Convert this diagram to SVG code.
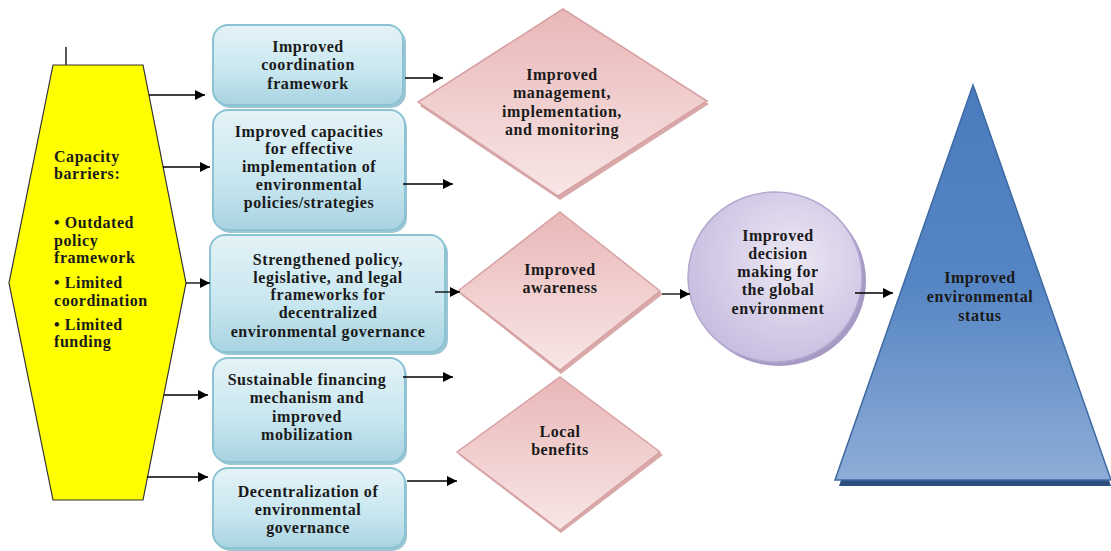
<svg xmlns="http://www.w3.org/2000/svg" width="1111" height="551" viewBox="0 0 1111 551">
<defs>
<linearGradient id="gBox" x1="0" y1="0" x2="0" y2="1">
<stop offset="0" stop-color="#e4f3f7"/>
<stop offset="0.6" stop-color="#c7e6ef"/>
<stop offset="1" stop-color="#a8d3e1"/>
</linearGradient>
<linearGradient id="gDia" x1="0" y1="0" x2="0" y2="1">
<stop offset="0" stop-color="#eab7b8"/>
<stop offset="1" stop-color="#f8e6e6"/>
</linearGradient>
<radialGradient id="gCir" cx="0.6" cy="0.4" r="0.7">
<stop offset="0" stop-color="#ece8f4"/>
<stop offset="1" stop-color="#c4b9de"/>
</radialGradient>
<linearGradient id="gTri" x1="0" y1="0" x2="0" y2="1">
<stop offset="0" stop-color="#4a7bbd"/>
<stop offset="0.5" stop-color="#5585c4"/>
<stop offset="1" stop-color="#8eadd6"/>
</linearGradient>
<marker id="ah" viewBox="0 0 10 10" refX="10" refY="5" markerWidth="10" markerHeight="10" markerUnits="userSpaceOnUse" orient="auto">
<path d="M0,0 L10,5 L0,10 z" fill="#000"/>
</marker>
</defs>
<style>
text{font-family:"Liberation Serif","Times New Roman",serif;font-weight:bold;font-size:16px;letter-spacing:0.55px;fill:#1a1a1a;}
.c{text-anchor:middle;}
.box{fill:url(#gBox);stroke:#8cc3d3;stroke-width:2;}
.boxsh{fill:#9cc6d3;}
.dia{fill:url(#gDia);stroke:#d7a1a3;stroke-width:1.5;}
.diash{fill:#d9a9aa;}
.ln{stroke:#000;stroke-width:1.3;fill:none;marker-end:url(#ah);}
</style>
<rect width="1111" height="551" fill="#fff"/>

<g id="barriers">
<line x1="66" y1="47" x2="66" y2="72" stroke="#000" stroke-width="1.3"/>
<polygon points="53,65 143,65 186,283 143,500 53,500 9,283" fill="#ffff00" stroke="#333" stroke-width="1.2"/>
<text x="54" y="162">Capacity</text>
<text x="54" y="179">barriers:</text>
<text x="54" y="228">• Outdated</text>
<text x="54" y="246">policy</text>
<text x="54" y="263">framework</text>
<text x="54" y="288">• Limited</text>
<text x="54" y="306">coordination</text>
<text x="54" y="330">• Limited</text>
<text x="54" y="347">funding</text>
</g>

<g id="box1">
<rect class="boxsh" x="215" y="28" width="191" height="80" rx="15"/>
<rect class="box" x="213" y="25" width="190" height="80" rx="15"/>
<text class="c" x="308" y="52">Improved</text>
<text class="c" x="308" y="70">coordination</text>
<text class="c" x="308" y="89">framework</text>
</g>

<g id="box2">
<rect class="boxsh" x="215" y="113" width="192" height="120" rx="15"/>
<rect class="box" x="213" y="110" width="192" height="120" rx="15"/>
<text class="c" x="309" y="137">Improved capacities</text>
<text class="c" x="309" y="154">for effective</text>
<text class="c" x="309" y="172">implementation of</text>
<text class="c" x="309" y="190">environmental</text>
<text class="c" x="309" y="208">policies/strategies</text>
</g>

<g id="box3">
<rect class="boxsh" x="213" y="238" width="235" height="117" rx="15"/>
<rect class="box" x="210" y="235" width="235" height="117" rx="15"/>
<text class="c" x="328" y="265">Strengthened policy,</text>
<text class="c" x="328" y="283">legislative, and legal</text>
<text class="c" x="328" y="300">frameworks for</text>
<text class="c" x="328" y="318">decentralized</text>
<text class="c" x="328" y="337">environmental governance</text>
</g>

<g id="box4">
<rect class="boxsh" x="215" y="361" width="192" height="104" rx="15"/>
<rect class="box" x="213" y="358" width="192" height="104" rx="15"/>
<text class="c" x="307" y="385">Sustainable financing</text>
<text class="c" x="307" y="403">mechanism and</text>
<text class="c" x="307" y="422">improved</text>
<text class="c" x="307" y="440">mobilization</text>
</g>

<g id="box5">
<rect class="boxsh" x="215" y="471" width="192" height="80" rx="15"/>
<rect class="box" x="213" y="468" width="192" height="80" rx="15"/>
<text class="c" x="308" y="497">Decentralization of</text>
<text class="c" x="308" y="515">environmental</text>
<text class="c" x="308" y="533">governance</text>
</g>

<g id="d1">
<polygon class="diash" points="563,12 709,104 560,200 420,106"/>
<polygon class="dia" points="563,9 707,101 558,196 418,102"/>
<text class="c" x="562" y="80">Improved</text>
<text class="c" x="562" y="98">management,</text>
<text class="c" x="562" y="117">implementation,</text>
<text class="c" x="562" y="135">and monitoring</text>
</g>

<g id="d2">
<polygon class="diash" points="561,215 663,294 561,374 460,294"/>
<polygon class="dia" points="560,212 660,291 560,370 458,291"/>
<text class="c" x="560" y="275">Improved</text>
<text class="c" x="560" y="293">awareness</text>
</g>

<g id="d3">
<polygon class="diash" points="561,380 663,455 561,533 459,455"/>
<polygon class="dia" points="560,377 660,452 560,530 457,452"/>
<text class="c" x="560" y="437">Local</text>
<text class="c" x="560" y="455">benefits</text>
</g>

<g id="circle">
<ellipse cx="779" cy="281" rx="87" ry="85" fill="#a699c4"/>
<ellipse cx="775" cy="277" rx="87" ry="85" fill="url(#gCir)" stroke="#b3a8cf" stroke-width="1.5"/>
<text class="c" x="778" y="241">Improved</text>
<text class="c" x="778" y="259">decision</text>
<text class="c" x="778" y="277">making for</text>
<text class="c" x="778" y="295">the global</text>
<text class="c" x="778" y="314">environment</text>
</g>

<g id="triangle">
<polygon points="975,89 839,486 1111,486" fill="#2d4f80"/>
<polygon points="973,85 835,480 1111,480" fill="url(#gTri)" stroke="#3e6aa3" stroke-width="1.5"/>
<text class="c" x="980" y="283">Improved</text>
<text class="c" x="980" y="302">environmental</text>
<text class="c" x="980" y="321">status</text>
</g>

<g id="connectors">
<line class="ln" x1="149" y1="95" x2="205" y2="95"/>
<line class="ln" x1="163" y1="167" x2="210" y2="167"/>
<line class="ln" x1="186" y1="283" x2="210" y2="283"/>
<line class="ln" x1="164" y1="395" x2="208" y2="395"/>
<line class="ln" x1="147" y1="477" x2="208" y2="477"/>
<line class="ln" x1="405" y1="78" x2="443" y2="78"/>
<line class="ln" x1="403" y1="184" x2="453" y2="184"/>
<line class="ln" x1="435" y1="292" x2="460" y2="292"/>
<line class="ln" x1="403" y1="377" x2="453" y2="377"/>
<line class="ln" x1="407" y1="481" x2="457" y2="481"/>
<line class="ln" x1="662" y1="294" x2="690" y2="294"/>
<line class="ln" x1="855" y1="293" x2="893" y2="293"/>
</g>
</svg>
